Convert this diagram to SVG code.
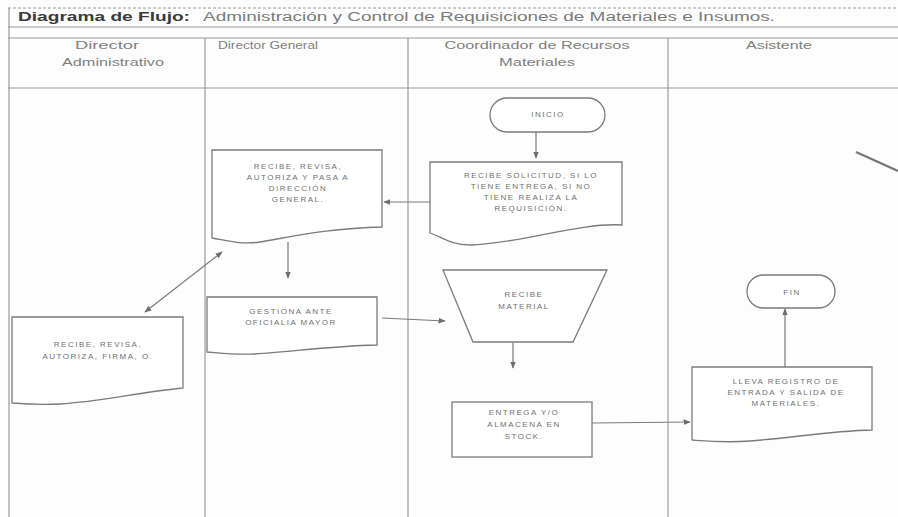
<svg xmlns="http://www.w3.org/2000/svg" width="898" height="517" viewBox="0 0 898 517">
<defs>
<marker id="ah" viewBox="0 0 10 10" refX="9" refY="5" markerWidth="6" markerHeight="6" orient="auto-start-reverse">
<path d="M0,1 L10,5 L0,9 z" fill="#6e6e6e"/>
</marker>
<style>
.frame{stroke:#9a9a9a;stroke-width:1.2;fill:none}
.shape{stroke:#7a7a7a;stroke-width:1.3;fill:#ffffff}
.conn{stroke:#7a7a7a;stroke-width:1.2;fill:none;marker-end:url(#ah)}
.t{font-family:"Liberation Sans",Arial,sans-serif;font-size:8px;letter-spacing:1.5px;fill:#6f6f6f;text-anchor:middle}
.h{font-family:"Liberation Sans",Arial,sans-serif;font-size:10px;fill:#7f7f7f;text-anchor:middle}
</style>
</defs>
<rect width="898" height="517" fill="#fdfdfd"/>
<g id="frame">
<line class="frame" x1="8" y1="8" x2="898" y2="8" stroke-dasharray="3,2"/>
<line class="frame" x1="8" y1="27" x2="898" y2="27"/>
<line class="frame" x1="8" y1="38" x2="898" y2="38"/>
<line class="frame" x1="8" y1="88" x2="898" y2="88"/>
<line class="frame" x1="9" y1="8" x2="9" y2="517"/>
<line class="frame" x1="205" y1="38" x2="205" y2="517"/>
<line class="frame" x1="408" y1="38" x2="408" y2="517"/>
<line class="frame" x1="668" y1="38" x2="668" y2="517"/>
<text x="18" y="21" font-family="Liberation Sans, Arial, sans-serif" font-size="13" font-weight="bold" fill="#3a3a3a" textLength="172" lengthAdjust="spacingAndGlyphs">Diagrama de Flujo:</text>
<text x="203" y="21" font-family="Liberation Sans, Arial, sans-serif" font-size="12" fill="#7a7a7a" textLength="572" lengthAdjust="spacingAndGlyphs">Administración y Control de Requisiciones de Materiales e Insumos.</text>
<text class="h" x="107" y="49" textLength="64" lengthAdjust="spacingAndGlyphs">Director</text>
<text class="h" x="113" y="66" textLength="102" lengthAdjust="spacingAndGlyphs">Administrativo</text>
<text class="h" x="218" y="49" style="text-anchor:start" textLength="100" lengthAdjust="spacingAndGlyphs">Director General</text>
<text class="h" x="537" y="49" textLength="185" lengthAdjust="spacingAndGlyphs">Coordinador de Recursos</text>
<text class="h" x="537" y="66" textLength="76" lengthAdjust="spacingAndGlyphs">Materiales</text>
<text class="h" x="779" y="49" textLength="66" lengthAdjust="spacingAndGlyphs">Asistente</text>
</g>
<g id="connectors">
<line class="conn" x1="536" y1="132" x2="536" y2="158"/>
<line class="conn" x1="430" y1="202" x2="384" y2="202"/>
<line class="conn" x1="288" y1="242" x2="288" y2="278"/>
<line class="conn" x1="145" y1="312" x2="222" y2="252" style="marker-start:url(#ah)"/>
<line class="conn" x1="382" y1="318" x2="445" y2="321"/>
<line class="conn" x1="513" y1="343" x2="513" y2="368"/>
<line class="conn" x1="592" y1="423" x2="690" y2="422"/>
<line class="conn" x1="785" y1="367" x2="785" y2="309"/>
<line x1="856" y1="152" x2="898" y2="171" stroke="#777" stroke-width="2.4"/>
</g>
<g id="inicio">
<rect class="shape" x="490" y="98" width="115" height="34" rx="17"/>
<text class="t" x="548" y="117">INICIO</text>
</g>
<g id="recibe-solicitud">
<path class="shape" d="M430,162 H622 V225 C580,222 520,244 470,245 C450,245 440,236 430,233 Z"/>
<text class="t" x="531" y="178">RECIBE SOLICITUD, SI LO</text>
<text class="t" x="531" y="189">TIENE ENTREGA, SI NO</text>
<text class="t" x="531" y="200">TIENE REALIZA LA</text>
<text class="t" x="531" y="211">REQUISICIÓN.</text>
</g>
<g id="recibe-revisa-autoriza">
<path class="shape" d="M212,150 H382 V227 C330,228 290,237 260,242 C240,245 225,240 212,238 Z"/>
<text class="t" x="298" y="169">RECIBE, REVISA,</text>
<text class="t" x="298" y="180">AUTORIZA Y PASA A</text>
<text class="t" x="298" y="191">DIRECCIÓN</text>
<text class="t" x="298" y="202">GENERAL.</text>
</g>
<g id="recibe-revisa-firma">
<path class="shape" d="M12,317 H183 V388 C140,392 100,402 60,404 C40,405 25,404 12,403 Z"/>
<text class="t" x="98" y="347">RECIBE, REVISA,</text>
<text class="t" x="98" y="359">AUTORIZA, FIRMA, O.</text>
</g>
<g id="gestiona">
<path class="shape" d="M207,297 H377 V345 C330,346 290,352 255,354 C235,355 220,353 207,352 Z"/>
<text class="t" x="291" y="314">GESTIONA ANTE</text>
<text class="t" x="291" y="325">OFICIALIA MAYOR</text>
</g>
<g id="recibe-material">
<path class="shape" d="M443,270 H607 L573,342 H473 Z"/>
<text class="t" x="524" y="297">RECIBE</text>
<text class="t" x="524" y="309">MATERIAL</text>
</g>
<g id="entrega-almacena">
<rect class="shape" x="452" y="402" width="140" height="55"/>
<text class="t" x="524" y="415">ENTREGA Y/O</text>
<text class="t" x="524" y="427">ALMACENA EN</text>
<text class="t" x="524" y="439">STOCK.</text>
</g>
<g id="lleva-registro">
<path class="shape" d="M692,367 H872 V430 C830,431 790,438 750,441 C725,443 705,441 692,440 Z"/>
<text class="t" x="786" y="384">LLEVA REGISTRO DE</text>
<text class="t" x="786" y="395">ENTRADA Y SALIDA DE</text>
<text class="t" x="786" y="406">MATERIALES.</text>
</g>
<g id="fin">
<rect class="shape" x="747" y="275" width="88" height="33" rx="16.5"/>
<text class="t" x="792" y="295">FIN</text>
</g>
</svg>
